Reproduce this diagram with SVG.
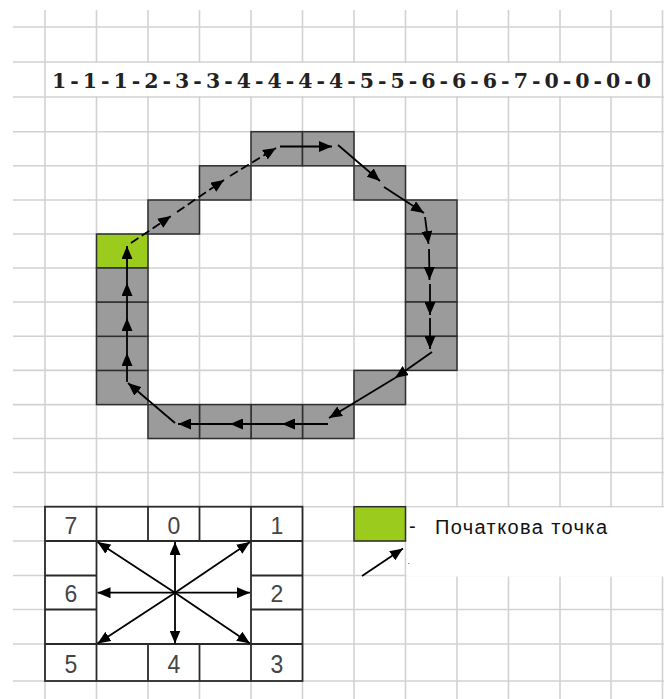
<svg xmlns="http://www.w3.org/2000/svg" width="664" height="699" viewBox="0 0 664 699">
<defs>
<style>
.grid line{stroke:#d2d2d2;stroke-width:1.6}
.cell{fill:#9b9b9b;stroke:#2e2e2e;stroke-width:1.5}
.start{fill:#9bcb1c;stroke:#2e2e2e;stroke-width:1.5}
.conn line{stroke:#000;stroke-width:1.8;marker-end:url(#ah)}
.dash{stroke-dasharray:9 4}
.tbl line,.tbl rect{stroke:#2a2a2a;stroke-width:1.8;fill:none}
.dg{font-family:"Liberation Sans",Arial,sans-serif;font-size:23px;fill:#444;text-anchor:middle}
.code{font-family:"DejaVu Serif","Liberation Serif",serif;font-weight:bold;font-size:20.5px;fill:#222}
.lbl{font-family:"Liberation Sans",Arial,sans-serif;font-size:20px;fill:#111}
</style>
<marker id="ah" viewBox="0 0 13 11" refX="13" refY="5.5" markerWidth="13" markerHeight="11" markerUnits="userSpaceOnUse" orient="auto"><path d="M0,0 L13,5.5 L0,11 z" fill="#000"/></marker>
</defs>
<rect width="664" height="699" fill="#fff"/>
<g class="grid" id="grid">
<line x1="45" y1="10" x2="45" y2="699"/>
<line x1="96.5" y1="10" x2="96.5" y2="699"/>
<line x1="148" y1="10" x2="148" y2="699"/>
<line x1="199.5" y1="10" x2="199.5" y2="699"/>
<line x1="251" y1="10" x2="251" y2="699"/>
<line x1="302.5" y1="10" x2="302.5" y2="699"/>
<line x1="354" y1="10" x2="354" y2="699"/>
<line x1="405.5" y1="10" x2="405.5" y2="699"/>
<line x1="457" y1="10" x2="457" y2="699"/>
<line x1="508.5" y1="10" x2="508.5" y2="699"/>
<line x1="560" y1="10" x2="560" y2="699"/>
<line x1="611" y1="10" x2="611" y2="699"/>
<line x1="662.5" y1="10" x2="662.5" y2="699"/>
<line x1="13" y1="27" x2="664" y2="27"/>
<line x1="13" y1="62" x2="664" y2="62"/>
<line x1="13" y1="97" x2="664" y2="97"/>
<line x1="13" y1="131.7" x2="664" y2="131.7"/>
<line x1="13" y1="165.8" x2="664" y2="165.8"/>
<line x1="13" y1="200" x2="664" y2="200"/>
<line x1="13" y1="234" x2="664" y2="234"/>
<line x1="13" y1="268" x2="664" y2="268"/>
<line x1="13" y1="302" x2="664" y2="302"/>
<line x1="13" y1="336.3" x2="664" y2="336.3"/>
<line x1="13" y1="370.4" x2="664" y2="370.4"/>
<line x1="13" y1="404.6" x2="664" y2="404.6"/>
<line x1="13" y1="438.5" x2="664" y2="438.5"/>
<line x1="13" y1="472.5" x2="664" y2="472.5"/>
<line x1="13" y1="506.7" x2="664" y2="506.7"/>
<line x1="13" y1="541" x2="664" y2="541"/>
<line x1="13" y1="575.5" x2="664" y2="575.5"/>
<line x1="13" y1="609.5" x2="664" y2="609.5"/>
<line x1="13" y1="644" x2="664" y2="644"/>
<line x1="13" y1="681" x2="664" y2="681"/>
</g>
<g id="chain-code">
<rect x="46" y="63" width="615" height="33" fill="#fff"/>
<text class="code" x="52" y="88.3" textLength="599" lengthAdjust="spacing">1-1-1-2-3-3-4-4-4-4-5-5-6-6-6-7-0-0-0-0</text>
</g>
<g id="cells">
<g id="c-start"><rect class="start" x="96.5" y="234" width="51.5" height="34"/></g>
<g id="c1"><rect class="cell" x="148" y="200" width="51.5" height="34"/></g>
<g id="c2"><rect class="cell" x="199.5" y="165.8" width="51.5" height="34.2"/></g>
<g id="c3"><rect class="cell" x="251" y="131.7" width="51.5" height="34.1"/></g>
<g id="c4"><rect class="cell" x="302.5" y="131.7" width="51.5" height="34.1"/></g>
<g id="c5"><rect class="cell" x="354" y="165.8" width="51.5" height="34.2"/></g>
<g id="c6"><rect class="cell" x="405.5" y="200" width="51.5" height="34"/></g>
<g id="c7"><rect class="cell" x="405.5" y="234" width="51.5" height="34"/></g>
<g id="c8"><rect class="cell" x="405.5" y="268" width="51.5" height="34"/></g>
<g id="c9"><rect class="cell" x="405.5" y="302" width="51.5" height="34.3"/></g>
<g id="c10"><rect class="cell" x="405.5" y="336.3" width="51.5" height="34.1"/></g>
<g id="c11"><rect class="cell" x="354" y="370.4" width="51.5" height="34.2"/></g>
<g id="c12"><rect class="cell" x="302.5" y="404.6" width="51.5" height="33.9"/></g>
<g id="c13"><rect class="cell" x="251" y="404.6" width="51.5" height="33.9"/></g>
<g id="c14"><rect class="cell" x="199.5" y="404.6" width="51.5" height="33.9"/></g>
<g id="c15"><rect class="cell" x="148" y="404.6" width="51.5" height="33.9"/></g>
<g id="c16"><rect class="cell" x="96.5" y="370.4" width="51.5" height="34.2"/></g>
<g id="c17"><rect class="cell" x="96.5" y="336.3" width="51.5" height="34.1"/></g>
<g id="c18"><rect class="cell" x="96.5" y="302" width="51.5" height="34.3"/></g>
<g id="c19"><rect class="cell" x="96.5" y="268" width="51.5" height="34"/></g>
</g>
<g class="conn" id="connectors">
<line class="dash" x1="131" y1="243" x2="171" y2="216"/>
<line class="dash" x1="177" y1="212" x2="224" y2="180"/>
<line class="dash" x1="230" y1="176" x2="276" y2="148"/>
<line x1="280" y1="146.5" x2="332" y2="146.5"/>
<line x1="338" y1="145" x2="380" y2="181"/>
<line x1="384" y1="187" x2="424" y2="213"/>
<line x1="425" y1="217" x2="428.5" y2="244"/>
<line x1="429" y1="249" x2="429.5" y2="280"/>
<line x1="430" y1="284" x2="430" y2="315"/>
<line x1="430" y1="318" x2="430" y2="349"/>
<line x1="432" y1="352" x2="395" y2="378"/>
<line x1="395" y1="378" x2="329" y2="418"/>
<line x1="328" y1="424" x2="282" y2="424"/>
<line x1="282" y1="424" x2="230" y2="424"/>
<line x1="230" y1="424" x2="178" y2="424"/>
<line x1="175" y1="423" x2="128" y2="383"/>
<line x1="127" y1="382" x2="127" y2="353"/>
<line x1="127" y1="353" x2="127" y2="318"/>
<line x1="127" y1="318" x2="127" y2="283"/>
<line x1="127" y1="283" x2="127" y2="246"/>
</g>
<g id="direction-table" class="tbl">
<rect x="45" y="506.7" width="257.5" height="174.3" style="fill:#fff"/>
<line x1="96.5" y1="506.7" x2="96.5" y2="681"/>
<line x1="251" y1="506.7" x2="251" y2="681"/>
<line x1="148" y1="506.7" x2="148" y2="541"/>
<line x1="199.5" y1="506.7" x2="199.5" y2="541"/>
<line x1="148" y1="644" x2="148" y2="681"/>
<line x1="199.5" y1="644" x2="199.5" y2="681"/>
<line x1="45" y1="541" x2="302.5" y2="541"/>
<line x1="45" y1="644" x2="302.5" y2="644"/>
<line x1="45" y1="575.5" x2="96.5" y2="575.5"/>
<line x1="45" y1="609.5" x2="96.5" y2="609.5"/>
<line x1="251" y1="575.5" x2="302.5" y2="575.5"/>
<line x1="251" y1="609.5" x2="302.5" y2="609.5"/>
</g>
<g id="direction-labels">
<text class="dg" x="71" y="533.5">7</text>
<text class="dg" x="174" y="533.5">0</text>
<text class="dg" x="277" y="533.5">1</text>
<text class="dg" x="71" y="601.7">6</text>
<text class="dg" x="277" y="601.7">2</text>
<text class="dg" transform="translate(71,673.3) scale(1,1.12)">5</text>
<text class="dg" transform="translate(174,673.3) scale(1,1.12)">4</text>
<text class="dg" transform="translate(277,673.3) scale(1,1.12)">3</text>
</g>
<g class="conn" id="direction-arrows">
<line x1="175" y1="592.7" x2="175" y2="542"/>
<line x1="175" y1="592.7" x2="250" y2="542"/>
<line x1="175" y1="592.7" x2="250" y2="592.7"/>
<line x1="175" y1="592.7" x2="250" y2="643.5"/>
<line x1="175" y1="592.7" x2="175" y2="643.5"/>
<line x1="175" y1="592.7" x2="97.5" y2="643.5"/>
<line x1="175" y1="592.7" x2="97.5" y2="592.7"/>
<line x1="175" y1="592.7" x2="97.5" y2="542"/>
</g>
<g id="legend">
<rect x="406.5" y="507.6" width="257.5" height="69" fill="#fff"/>
<g id="legend-start"><rect class="start" x="354" y="506.7" width="51.5" height="34.3"/></g>
<text class="lbl" x="409" y="533">-</text>
<text class="lbl" x="435" y="534.3" textLength="172" lengthAdjust="spacing">Початкова точка</text>
<g class="conn" id="legend-arrow"><line x1="362" y1="576" x2="403" y2="548.5"/></g>
<text x="407.5" y="563.5" style="font-family:'Liberation Sans',sans-serif;font-size:9px;fill:#333">.</text>
</g>
</svg>
